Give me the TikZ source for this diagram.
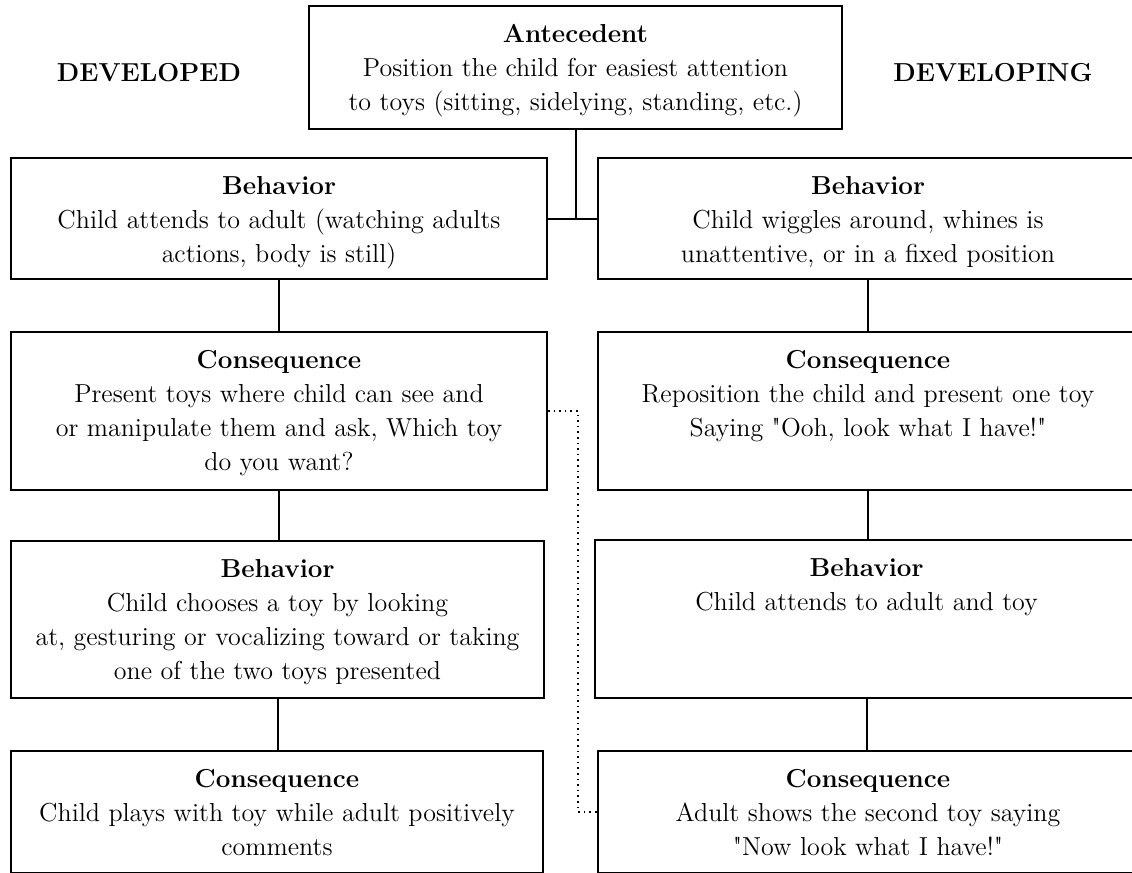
\documentclass[tikz,border=0pt]{standalone}
\usetikzlibrary{positioning}

\begin{document}
\begin{tikzpicture}[
 x=0.5pt,y=-0.5pt,
 font=\fontsize{13}{17}\selectfont,
 box/.style n args={2}{draw=black,line width=1pt,inner sep=0pt,anchor=north west,
  execute at begin node={\begin{minipage}[t][#2][t]{#1}\centering\rule{0pt}{18pt}},
  execute at end node={\end{minipage}}},
 lnk/.style={line width=1pt,black},
 dlnk/.style={line width=0.8pt,black,dotted},
 side/.style={font=\fontsize{13}{17}\selectfont\bfseries}]
\useasboundingbox (0,0) rectangle (1132,873);
% column titles
\node[side] (dvd) at (149,73) {DEVELOPED};
\node[side] (dvg) at (993,73) {DEVELOPING};
% antecedent
\node[box={266.5pt}{61.5pt}] (ant) at (308,5) {\textbf{Antecedent}\\
 Position the child for easiest attention\\ to toys (sitting, sidelying, standing, etc.)};
% developed column
\node[box={268pt}{60.5pt}] (lb1) at (10,157) {\textbf{Behavior}\\
 Child attends to adult (watching adults\\ actions, body is still)};
\node[box={268pt}{79pt}] (lc1) at (10,331) {\textbf{Consequence}\\
 Present toys where child can see and\\ or manipulate them and ask, Which toy\\ do you want?};
\node[box={266.5pt}{78.5pt}] (lb2) at (10,540) {\textbf{Behavior}\\
 Child chooses a toy by looking\\ at, gesturing or vocalizing toward or taking\\ one of the two toys presented};
\node[box={266pt}{61pt}] (lc2) at (10,750) {\textbf{Consequence}\\
 Child plays with toy while adult positively\\ comments};
% developing column
\node[box={270pt}{60.5pt}] (rb1) at (597,157) {\textbf{Behavior}\\
 Child wiggles around, whines is\\ unattentive, or in a fixed position};
\node[box={270pt}{79pt}] (rc1) at (597,331) {\textbf{Consequence}\\
 Reposition the child and present one toy\\ Saying \textquotedbl Ooh, look what I have!\textquotedbl};
\node[box={271.5pt}{79pt}] (rb2) at (594,539) {\textbf{Behavior}\\
 Child attends to adult and toy};
\node[box={270pt}{61pt}] (rc2) at (597,750) {\textbf{Consequence}\\
 Adult shows the second toy saying\\ \textquotedbl Now look what I have!\textquotedbl};
% links
\draw[lnk] (lb1.east) -- (rb1.west);
\draw[lnk] (ant.south) -- (ant.south |- lb1.east);
\draw[lnk] (lb1) -- (lc1);
\draw[lnk] (lc1.south) -- (lc1.south |- lb2.north);
\draw[lnk] (lb2.south) -- (lb2.south |- lc2.north);
\draw[lnk] (rb1.south) -- (rb1.south |- rc1.north);
\draw[lnk] (rc1.south) -- (rc1.south |- rb2.north);
\draw[lnk] (rb2.south) -- (rb2.south |- rc2.north);
\draw[dlnk] (lc1.east) -- ++(30,0) |- (rc2.west);
\end{tikzpicture}
\end{document}
